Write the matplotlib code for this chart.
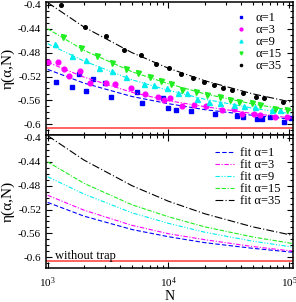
import numpy as np
import matplotlib
matplotlib.use("Agg")
import matplotlib.pyplot as plt
from matplotlib.ticker import MultipleLocator, LogLocator, NullFormatter

plt.rcParams["font.family"] = ["Liberation Serif", "DejaVu Serif"]
plt.rcParams["mathtext.fontset"] = "stix"

# ---------------- simulation points (top panel) ----------------
N_a1 = [1170, 1580, 1810, 2070, 2380, 2990, 3370, 5510, 6050, 9120, 10000,
        11500, 15300, 24600, 37100, 41600, 54200, 59600, 69800, 91400, 103800]
eta_a1 = [-0.529, -0.538, -0.5165, -0.544, -0.5243, -0.531, -0.5547, -0.5462,
          -0.565, -0.5557, -0.572, -0.5753, -0.578, -0.583, -0.5865, -0.5877,
          -0.5915, -0.5915, -0.5877, -0.596, -0.5888]

N_a3 = [1000, 1220, 1360, 1510, 1850, 2230, 3020, 3650, 4910, 6440, 8240, 9230,
        10300, 12900, 16300, 20400, 27900, 35200, 40700, 50800, 57700, 76700, 95700]
eta_a3 = [-0.4958, -0.4963, -0.5075, -0.5188, -0.5115, -0.5305, -0.5317, -0.5328,
          -0.540, -0.550, -0.554, -0.5597, -0.5557, -0.569, -0.567, -0.570,
          -0.5765, -0.5737, -0.583, -0.582, -0.585, -0.5877, -0.5877]

N_a9 = [1150, 1580, 2100, 2690, 3430, 4470, 6320, 7640, 9840, 12050, 14400,
        17400, 21700, 27000, 34800, 42100, 52500, 72100, 84300]
eta_a9 = [-0.466, -0.485, -0.4925, -0.5065, -0.511, -0.5205, -0.5328, -0.535,
          -0.540, -0.5475, -0.548, -0.558, -0.5625, -0.565, -0.567, -0.569,
          -0.571, -0.5765, -0.5765]

N_a15 = [1330, 1900, 2580, 3430, 4470, 5640, 7040, 8670, 10500, 13100, 17100,
         21000, 27000, 32300, 38700, 49300, 57700, 76700, 95700]
eta_a15 = [-0.4543, -0.4717, -0.4857, -0.497, -0.507, -0.5137, -0.5215, -0.5277,
           -0.533, -0.543, -0.5457, -0.551, -0.555, -0.5597, -0.5625, -0.565,
           -0.568, -0.5737, -0.5765]

N_a35 = [1280, 2050, 3020, 4330, 5940, 7890, 10170, 12860, 16000, 19700, 23800,
         28500, 33700, 41600, 53500, 62200, 89800]
eta_a35 = [-0.400, -0.4365, -0.452, -0.4756, -0.4845, -0.4997, -0.5065, -0.5165,
           -0.522, -0.529, -0.534, -0.539, -0.543, -0.548, -0.554, -0.556, -0.5635]

# ---------------- fitted curves ----------------
N_fit = [1000, 2000, 5000, 10000, 20000, 50000, 100000, 107000]
fit_a1 = [-0.508, -0.531, -0.5535, -0.5655, -0.5755, -0.585, -0.591, -0.5915]
fit_a3 = [-0.496, -0.521, -0.5465, -0.5605, -0.5705, -0.582, -0.589, -0.5895]
fit_a9 = [-0.465, -0.494, -0.5255, -0.543, -0.558, -0.573, -0.582, -0.583]
fit_a15 = [-0.440, -0.476, -0.512, -0.532, -0.549, -0.566, -0.576, -0.577]
fit_a35 = [-0.396, -0.437, -0.480, -0.506, -0.527, -0.549, -0.562, -0.5635]

eta_no_trap = -0.607
alphas = ["1", "3", "9", "15", "35"]

colors = ["#0000ff", "#ff00ff", "#00eeee", "#22ee22", "#000000"]
markers = ["s", "o", "^", "v", "o"]
msizes = [3.2, 3.4, 3.6, 3.6, 2.6]
dashes = [(4, 2), (4, 1.5, 1, 1.5), (4, 1.5, 1, 1.5, 1, 1.5),
          (4, 1.5, 4, 1.5, 1, 1.5), (7, 2, 1, 2)]

points = [(N_a1, eta_a1), (N_a3, eta_a3), (N_a9, eta_a9), (N_a15, eta_a15), (N_a35, eta_a35)]
fits = [fit_a1, fit_a3, fit_a9, fit_a15, fit_a35]

fig = plt.figure(figsize=(2.96, 3.02), dpi=100)
ax1 = fig.add_axes([0.1554, 0.553, 0.833, 0.4406])
ax2 = fig.add_axes([0.1554, 0.1126, 0.833, 0.4404])


def style_axis(ax):
    ax.set_xscale("log")
    ax.set_xlim(970, 1.07e5)
    ax.set_ylim(-0.618, -0.395)
    ax.yaxis.set_major_locator(MultipleLocator(0.04))
    ax.yaxis.set_minor_locator(MultipleLocator(0.01))
    ax.xaxis.set_major_locator(LogLocator(base=10))
    ax.xaxis.set_minor_locator(LogLocator(base=10, subs=np.arange(2, 10)))
    ax.xaxis.set_minor_formatter(NullFormatter())
    ax.tick_params(which="both", direction="in", top=True, right=True, labelsize=8,
                   width=0.8)
    ax.tick_params(which="major", length=4.5)
    ax.tick_params(which="minor", length=2.5)
    ax.tick_params(axis="x", pad=5)
    ax.yaxis.set_major_formatter(plt.FuncFormatter(lambda v, p: ("%g" % round(v, 2))))
    for s in ax.spines.values():
        s.set_linewidth(1.1)
    ax.set_ylabel("η(α,N)", fontsize=11, labelpad=2)
    ax.axhline(eta_no_trap, color="#ff3838", lw=1.1)


style_axis(ax1)
style_axis(ax2)

for (nx, ny), fy, c, m, ms, d, a in zip(points, fits, colors, markers, msizes, dashes, alphas):
    ax1.plot(nx, ny, ls="none", marker=m, ms=ms, color=c, mec=c, label="α=" + a)
    ax1.plot(N_fit, fy, color=c, lw=0.8, dashes=d)
    ax2.plot(N_fit, fy, color=c, lw=0.8, dashes=d, label="fit α=" + a)

ax1.tick_params(labelbottom=False)
ax1.legend(loc="upper right", bbox_to_anchor=(0.957, 0.925), frameon=False,
           fontsize=9, handlelength=1.0, handletextpad=0.7, labelspacing=0.0,
           borderaxespad=0, borderpad=0, markerscale=0.6)
ax2.legend(loc="upper right", bbox_to_anchor=(0.953, 0.91), frameon=False,
           fontsize=9, handlelength=1.45, handletextpad=0.55, labelspacing=0.0,
           borderaxespad=0, borderpad=0)
ax2.text(1150, -0.603, "without trap", fontsize=9)
ax2.set_xlabel("N", fontsize=10, labelpad=0)

fig.savefig("out.png", dpi=100)
